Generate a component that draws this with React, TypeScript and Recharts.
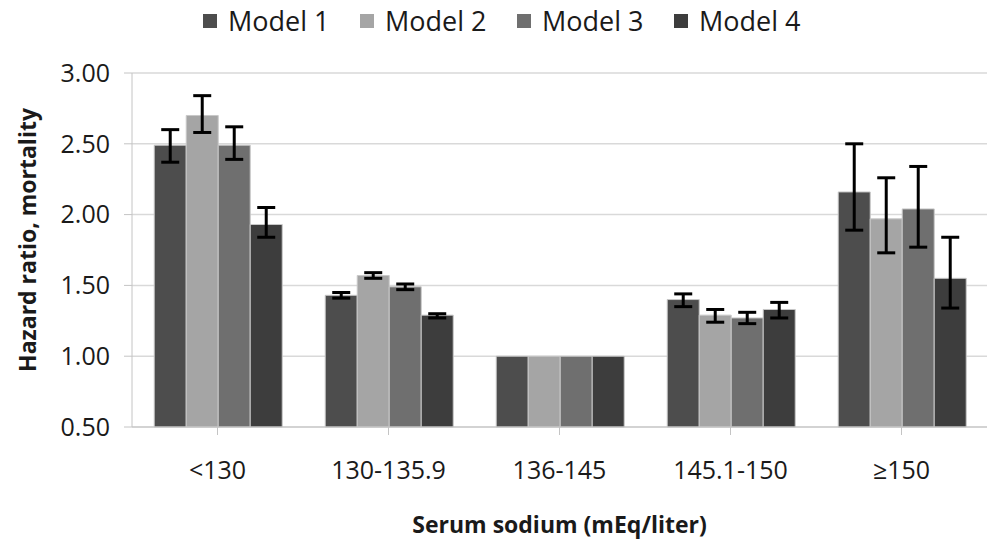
import React from 'react'
import { BarChart, Bar, XAxis, YAxis, CartesianGrid, Legend, ErrorBar } from 'recharts'

const categories = ['<130', '130-135.9', '136-145', '145.1-150', '≥150']

const model1 = [2.49, 1.43, 1.0, 1.4, 2.16]
const model1Low = [2.37, 1.41, 1.0, 1.35, 1.89]
const model1High = [2.6, 1.45, 1.0, 1.44, 2.5]

const model2 = [2.7, 1.57, 1.0, 1.29, 1.97]
const model2Low = [2.58, 1.55, 1.0, 1.24, 1.73]
const model2High = [2.84, 1.59, 1.0, 1.33, 2.26]

const model3 = [2.49, 1.49, 1.0, 1.27, 2.04]
const model3Low = [2.39, 1.47, 1.0, 1.23, 1.77]
const model3High = [2.62, 1.51, 1.0, 1.31, 2.34]

const model4 = [1.93, 1.29, 1.0, 1.33, 1.55]
const model4Low = [1.84, 1.27, 1.0, 1.27, 1.34]
const model4High = [2.05, 1.3, 1.0, 1.38, 1.84]

const yTicks = [0.5, 1.0, 1.5, 2.0, 2.5, 3.0]

const series = [
  { key: 'm1', name: 'Model 1', color: '#4d4d4d', vals: model1, low: model1Low, high: model1High },
  { key: 'm2', name: 'Model 2', color: '#a5a5a5', vals: model2, low: model2Low, high: model2High },
  { key: 'm3', name: 'Model 3', color: '#6f6f6f', vals: model3, low: model3Low, high: model3High },
  { key: 'm4', name: 'Model 4', color: '#3d3d3d', vals: model4, low: model4Low, high: model4High },
]

const chartData = categories.map((cat, i) => {
  const row: any = { cat }
  series.forEach(s => {
    row[s.key] = s.vals[i]
    const down = +(s.vals[i] - s.low[i]).toFixed(3)
    const up = +(s.high[i] - s.vals[i]).toFixed(3)
    // reference group is fixed at 1.00, no error bar there
    row[s.key + 'Err'] = down === 0 && up === 0 ? null : [down, up]
  })
  return row
})

const font = '"Open Sans", sans-serif'

const renderLegend = () => (
  <div style={{ display: 'flex', fontFamily: font, fontSize: 27, color: '#1a1a1a', lineHeight: '30px' }}>
    {series.map(s => (
      <div key={s.key} style={{ display: 'flex', alignItems: 'center', width: 157 }}>
        <span style={{ width: 14, height: 14, background: s.color, display: 'inline-block', marginRight: 11 }} />
        <span>{s.name}</span>
      </div>
    ))}
  </div>
)

export default function App() {
  return (
    <div style={{ position: 'fixed', top: 0, left: 0, width: 987, height: 541, background: '#fff' }}>
      <BarChart
        width={987}
        height={541}
        data={chartData}
        margin={{ top: 73, right: 0, left: 0, bottom: 0 }}
        barCategoryGap="13%"
        barGap={0}
      >
        <CartesianGrid vertical={false} stroke="#d9d9d9" strokeWidth={1.5} />
        <XAxis
          dataKey="cat"
          height={114}
          stroke="#c4c4c4"
          tickSize={8}
          tickMargin={26}
          tick={{ fill: '#1a1a1a', fontSize: 25, fontFamily: font }}
          label={{ value: 'Serum sodium (mEq/liter)', position: 'insideBottom', offset: 8, fill: '#1a1a1a', fontSize: 23, fontWeight: 'bold', fontFamily: font }}
        />
        <YAxis
          width={132}
          domain={[0.5, 3]}
          ticks={yTicks}
          interval={0}
          stroke="#c4c4c4"
          tickSize={8}
          tickMargin={14}
          tickFormatter={(v: number) => v.toFixed(2)}
          tick={{ fill: '#1a1a1a', fontSize: 25, fontFamily: font }}
          label={{ value: 'Hazard ratio, mortality', angle: -90, position: 'insideLeft', offset: 28, dy: -10, style: { textAnchor: 'middle' }, fill: '#1a1a1a', fontSize: 23, fontWeight: 'bold', fontFamily: font }}
        />
        <Legend verticalAlign="top" content={renderLegend} wrapperStyle={{ top: 6, left: 203, width: 640, height: 0, overflow: 'visible' }} />
        {series.map(s => (
          <Bar key={s.key} dataKey={s.key} name={s.name} fill={s.color} stroke="#c8c8c8" strokeWidth={1} isAnimationActive={false}>
            <ErrorBar dataKey={s.key + 'Err'} width={9} stroke="#000" strokeWidth={3} isAnimationActive={false} />
          </Bar>
        ))}
      </BarChart>
    </div>
  )
}
